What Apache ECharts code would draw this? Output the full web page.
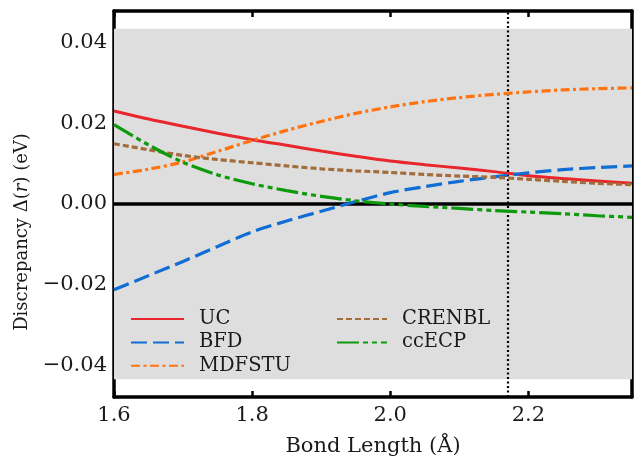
<!DOCTYPE html>
<html>
<head>
<meta charset="utf-8">
<script src="https://cdn.jsdelivr.net/npm/echarts@6/dist/echarts.min.js"></script>
<style>
html,body{margin:0;padding:0;background:#fff;}
#chart{width:634px;height:462px;}
</style>
</head>
<body>
<div id="chart"></div>
<script>
const bondLength = [1.6, 1.65, 1.7, 1.75, 1.8, 1.85, 1.9, 1.95, 2.0, 2.05, 2.1, 2.15, 2.2, 2.25, 2.3, 2.35];
const uc     = [0.0230, 0.0210, 0.0192, 0.0175, 0.0159, 0.0145, 0.0131, 0.0118, 0.0106, 0.0097, 0.0089, 0.0080, 0.0070, 0.0063, 0.0057, 0.0051];
const bfd    = [-0.0212, -0.0177, -0.0142, -0.0105, -0.0069, -0.0042, -0.0018, 0.0006, 0.0028, 0.0043, 0.0056, 0.0067, 0.0077, 0.0085, 0.0090, 0.0094];
const mdfstu = [0.0073, 0.0086, 0.0104, 0.0130, 0.0157, 0.0182, 0.0204, 0.0224, 0.0240, 0.0253, 0.0263, 0.0271, 0.0277, 0.0282, 0.0285, 0.0287];
const crenbl = [0.0149, 0.0134, 0.0120, 0.0110, 0.0102, 0.0094, 0.0087, 0.0082, 0.0078, 0.0073, 0.0069, 0.0066, 0.0061, 0.0056, 0.0051, 0.0048];
const ccecp  = [0.0196, 0.0146, 0.0103, 0.0072, 0.0050, 0.0033, 0.0019, 0.0008, 0.0000, -0.0006, -0.0011, -0.0016, -0.0020, -0.0024, -0.0029, -0.0033];
const xTicks = [1.6, 1.8, 2.0, 2.2];
const yTicks = [-0.04, -0.02, 0, 0.02, 0.04];
const xRange = [1.6, 2.35];
const yRange = [-0.0477, 0.0477];
const chemAcc = 0.0433;
const refLength = 2.167;

const FONT = 'DejaVu Serif';
const TXT = '#1a1a1a';
const pair = arr => bondLength.map((x, i) => [x, arr[i]]);

const axisLineStyle = {color: '#000', width: 3.5};
const tickStyle = {color: '#000', width: 2.5};

function xAx(pos, withLabel) {
  return {
    type: 'value', position: pos, min: xRange[0], max: xRange[1],
    axisLine: {show: true, onZero: false, lineStyle: axisLineStyle},
    axisTick: {show: true, inside: true, length: 6, lineStyle: tickStyle, customValues: xTicks},
    axisLabel: withLabel ? {show: true, customValues: xTicks, formatter: v => v.toFixed(1),
      fontFamily: FONT, fontSize: 21, color: TXT, margin: 8} : {show: false},
    splitLine: {show: false},
    name: withLabel ? 'Bond Length (Å)' : '',
    nameLocation: 'middle', nameGap: 39,
    nameTextStyle: {fontFamily: FONT, fontSize: 21, color: TXT}
  };
}
function yAx(pos, withLabel) {
  return {
    type: 'value', position: pos, min: yRange[0], max: yRange[1],
    axisLine: {show: true, onZero: false, lineStyle: axisLineStyle},
    axisTick: {show: true, inside: true, length: 6, lineStyle: tickStyle, customValues: yTicks},
    axisLabel: withLabel ? {show: true, customValues: yTicks,
      formatter: v => (v < -1e-9 ? '\u2212' : '') + Math.abs(v).toFixed(2),
      fontFamily: FONT, fontSize: 21, color: TXT, margin: 7} : {show: false},
    splitLine: {show: false},
    name: withLabel ? 'Discrepancy Δ({i|r}) (eV)' : '',
    nameLocation: 'middle', nameGap: 67, nameRotate: 90,
    nameTextStyle: {fontFamily: FONT, fontSize: 18, color: TXT, padding: [0, 56, 0, 0],
      rich: {i: {fontFamily: FONT, fontSize: 18, fontStyle: 'italic', color: TXT}}}
  };
}

function lineSeries(name, data, color, type, width) {
  return {
    name, type: 'line', data: pair(data), xAxisIndex: 0, yAxisIndex: 0,
    showSymbol: false, symbol: 'none', smooth: 0.3, z: 5,
    lineStyle: {color, width: width || 3, type},
    itemStyle: {color},
    emphasis: {disabled: true}
  };
}

const legendCommon = {
  orient: 'vertical', top: 304, itemHeight: 14, itemGap: 3.4, selectedMode: false,
  itemStyle: {color: 'rgba(0,0,0,0)', borderWidth: 0, opacity: 0},
  textStyle: {fontFamily: FONT, fontSize: 19.5, lineHeight: 20, color: TXT, padding: [0, 0, 0, 10]}
};

const chart = echarts.init(document.getElementById('chart'), null, {renderer: 'canvas'});
chart.setOption({
  animation: false,
  backgroundColor: '#fff',
  textStyle: {fontFamily: FONT},
  grid: {left: 114, right: 2, top: 11, bottom: 64, containLabel: false},
  xAxis: [xAx('bottom', true), xAx('top', false)],
  yAxis: [yAx('left', true), yAx('right', false)],
  legend: [
    Object.assign({data: ['UC', 'BFD', 'MDFSTU'], left: 125, itemWidth: 53}, legendCommon),
    Object.assign({data: ['CRENBL', 'ccECP'], left: 331, itemWidth: 50}, legendCommon)
  ],
  series: [
    {
      name: 'ref', type: 'line', data: [], xAxisIndex: 0, yAxisIndex: 0, z: 1, silent: true,
      markArea: {silent: true, itemStyle: {color: '#dedede'},
        data: [[{yAxis: -chemAcc}, {yAxis: chemAcc}]]},
      markLine: {silent: true, symbol: 'none', label: {show: false}, animation: false,
        data: [
          {yAxis: 0, lineStyle: {color: '#000', width: 3.5, type: 'solid'}}
        ]}
    },
    lineSeries('UC', uc, '#e8262b', 'solid', 3),
    lineSeries('BFD', bfd, '#0f6dd3', [16, 6], 3.2),
    lineSeries('MDFSTU', mdfstu, '#ff7410', [9, 3.5, 3, 3.5], 3.2),
    lineSeries('CRENBL', crenbl, '#a36d3b', [6, 3], 3.2),
    lineSeries('ccECP', ccecp, '#0d9a0d', [22, 4, 5, 4, 5, 4], 3.2),
    {
      name: 'refline', type: 'line', data: [], xAxisIndex: 0, yAxisIndex: 0, z: 10, silent: true,
      markLine: {silent: true, symbol: 'none', label: {show: false}, animation: false,
        data: [{xAxis: refLength, lineStyle: {color: '#000', width: 2.2, type: [2, 2.5]}}]}
    }
  ]
});
</script>
</body>
</html>
